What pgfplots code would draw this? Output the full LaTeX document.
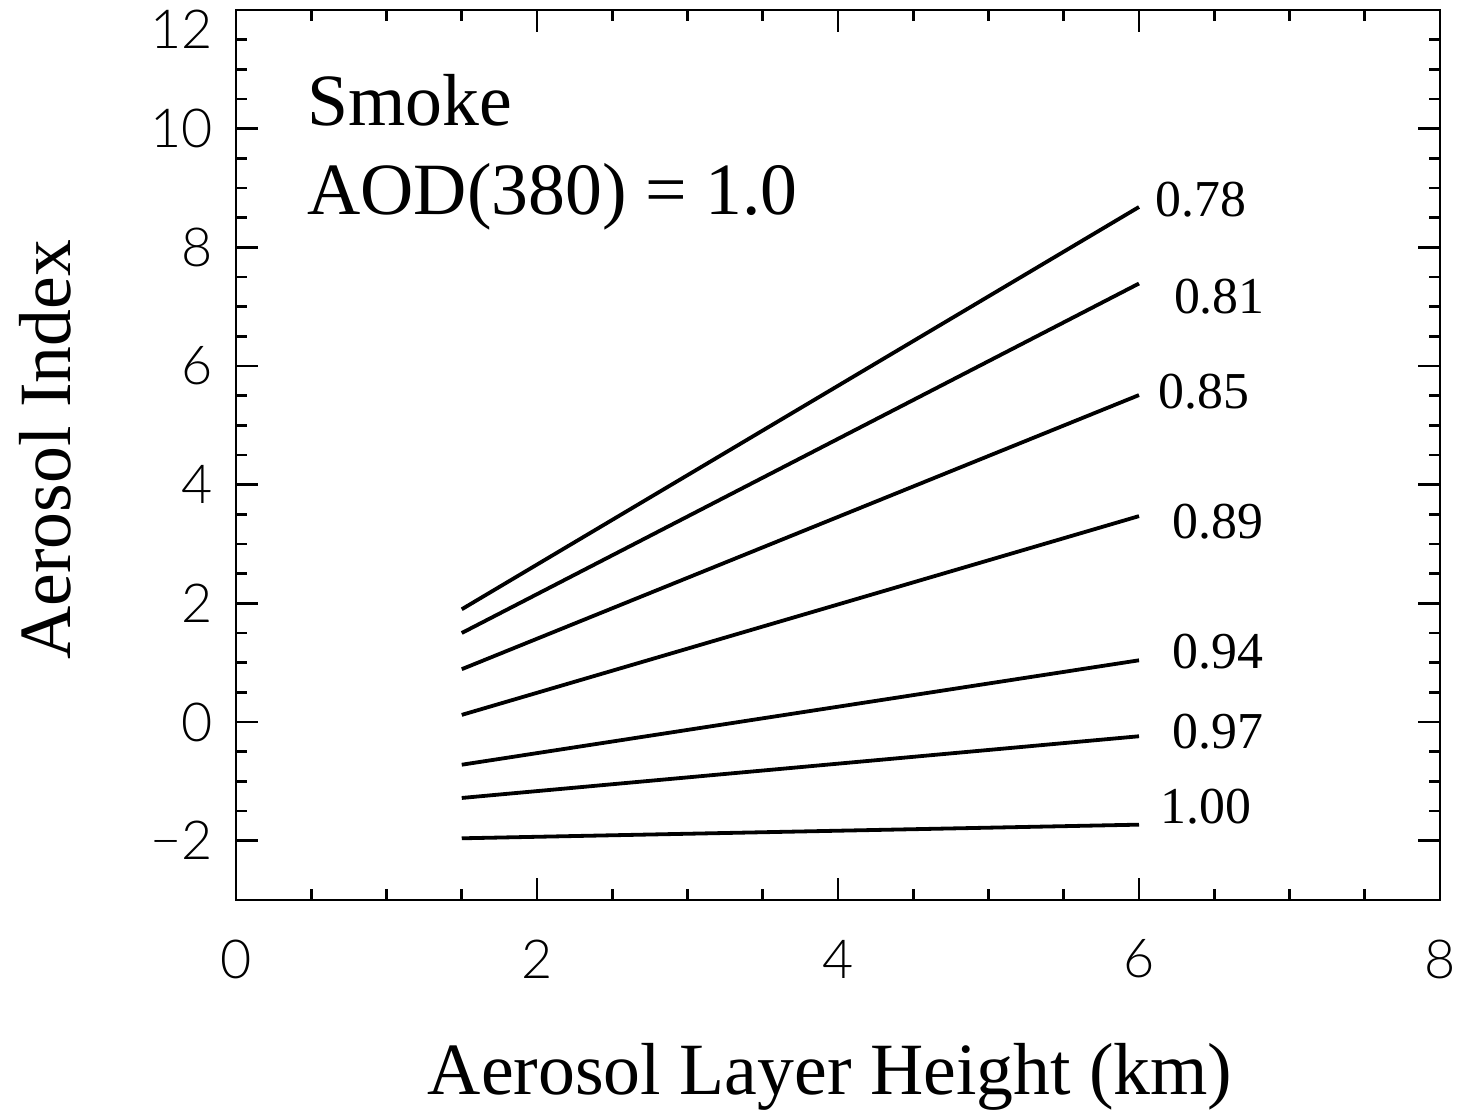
\documentclass[border=0pt]{standalone}
\usepackage{pgfplots}
\pgfplotsset{compat=1.18}
\usepackage{fontspec}
\setmainfont{Liberation Serif}
\newfontfamily\tickfont{Lato Light}
\begin{document}
\begin{tikzpicture}
\begin{axis}[
  name=ax,
  scale only axis,
  width=602bp, height=445bp,
  xmin=0, xmax=8, ymin=-3, ymax=12,
  xtick={0,2,4,6,8}, ytick={-2,0,2,4,6,8,10,12},
  yticklabels={−2,0,2,4,6,8,10,\raisebox{-19.25bp}[0pt][0pt]{12}},
  minor x tick num=3, minor y tick num=3,
  tick align=inside,
  major tick length=11bp, minor tick length=5.5bp,
  axis line style={line width=1.4bp},
  every tick/.style={line width=1.3bp, black},
  /pgf/number format/assume math mode=true,
  xticklabel style={font=\tickfont\fontsize{27}{30}\selectfont, anchor=center, yshift=-29.5bp},
  yticklabel style={font=\tickfont\fontsize{27}{30}\selectfont, anchor=east, inner sep=0pt, xshift=-11.5bp},
  xlabel={Aerosol Layer Height (km)},
  ylabel={Aerosol Index},
  xlabel style={font=\fontsize{37}{40}\selectfont, at={(axis description cs:0.4935,0)}, anchor=center, yshift=-88.5bp},
  ylabel style={font=\fontsize{37}{40}\selectfont, at={(axis description cs:-0.1586,0.506)}, anchor=center},
  clip=false,
]
\addplot[black, line width=1.9bp] coordinates {(1.5,1.90) (6,8.68)};
\addplot[black, line width=1.9bp] coordinates {(1.5,1.50) (6,7.39)};
\addplot[black, line width=1.9bp] coordinates {(1.5,0.89) (6,5.51)};
\addplot[black, line width=1.9bp] coordinates {(1.5,0.12) (6,3.47)};
\addplot[black, line width=1.9bp] coordinates {(1.5,-0.72) (6,1.04)};
\addplot[black, line width=1.9bp] coordinates {(1.5,-1.28) (6,-0.24)};
\addplot[black, line width=1.9bp] coordinates {(1.5,-1.96) (6,-1.73)};
\node[anchor=west, inner sep=0pt, font=\fontsize{26}{28}\selectfont] at (axis cs:6.106,8.80) {0.78};
\node[anchor=west, inner sep=0pt, font=\fontsize{26}{28}\selectfont] at (axis cs:6.230,7.17) {0.81};
\node[anchor=west, inner sep=0pt, font=\fontsize{26}{28}\selectfont] at (axis cs:6.126,5.56) {0.85};
\node[anchor=west, inner sep=0pt, font=\fontsize{26}{28}\selectfont] at (axis cs:6.219,3.37) {0.89};
\node[anchor=west, inner sep=0pt, font=\fontsize{26}{28}\selectfont] at (axis cs:6.219,1.18) {0.94};
\node[anchor=west, inner sep=0pt, font=\fontsize{26}{28}\selectfont] at (axis cs:6.219,-0.17) {0.97};
\node[anchor=west, inner sep=0pt, font=\fontsize{26}{28}\selectfont] at (axis cs:6.140,-1.43) {1.00};
\node[anchor=base west, inner sep=0pt, font=\fontsize{37}{40}\selectfont] at (axis cs:0.472,10.05) {Smoke};
\node[anchor=base west, inner sep=0pt, font=\fontsize{37}{40}\selectfont] at (axis cs:0.472,8.55) {AOD(380) = 1.0};
\end{axis}
\pgfresetboundingbox
\path ([xshift=-118bp,yshift=-108.5bp]ax.south west) rectangle ([xshift=9.5bp,yshift=5bp]ax.north east);
\end{tikzpicture}
\end{document}
